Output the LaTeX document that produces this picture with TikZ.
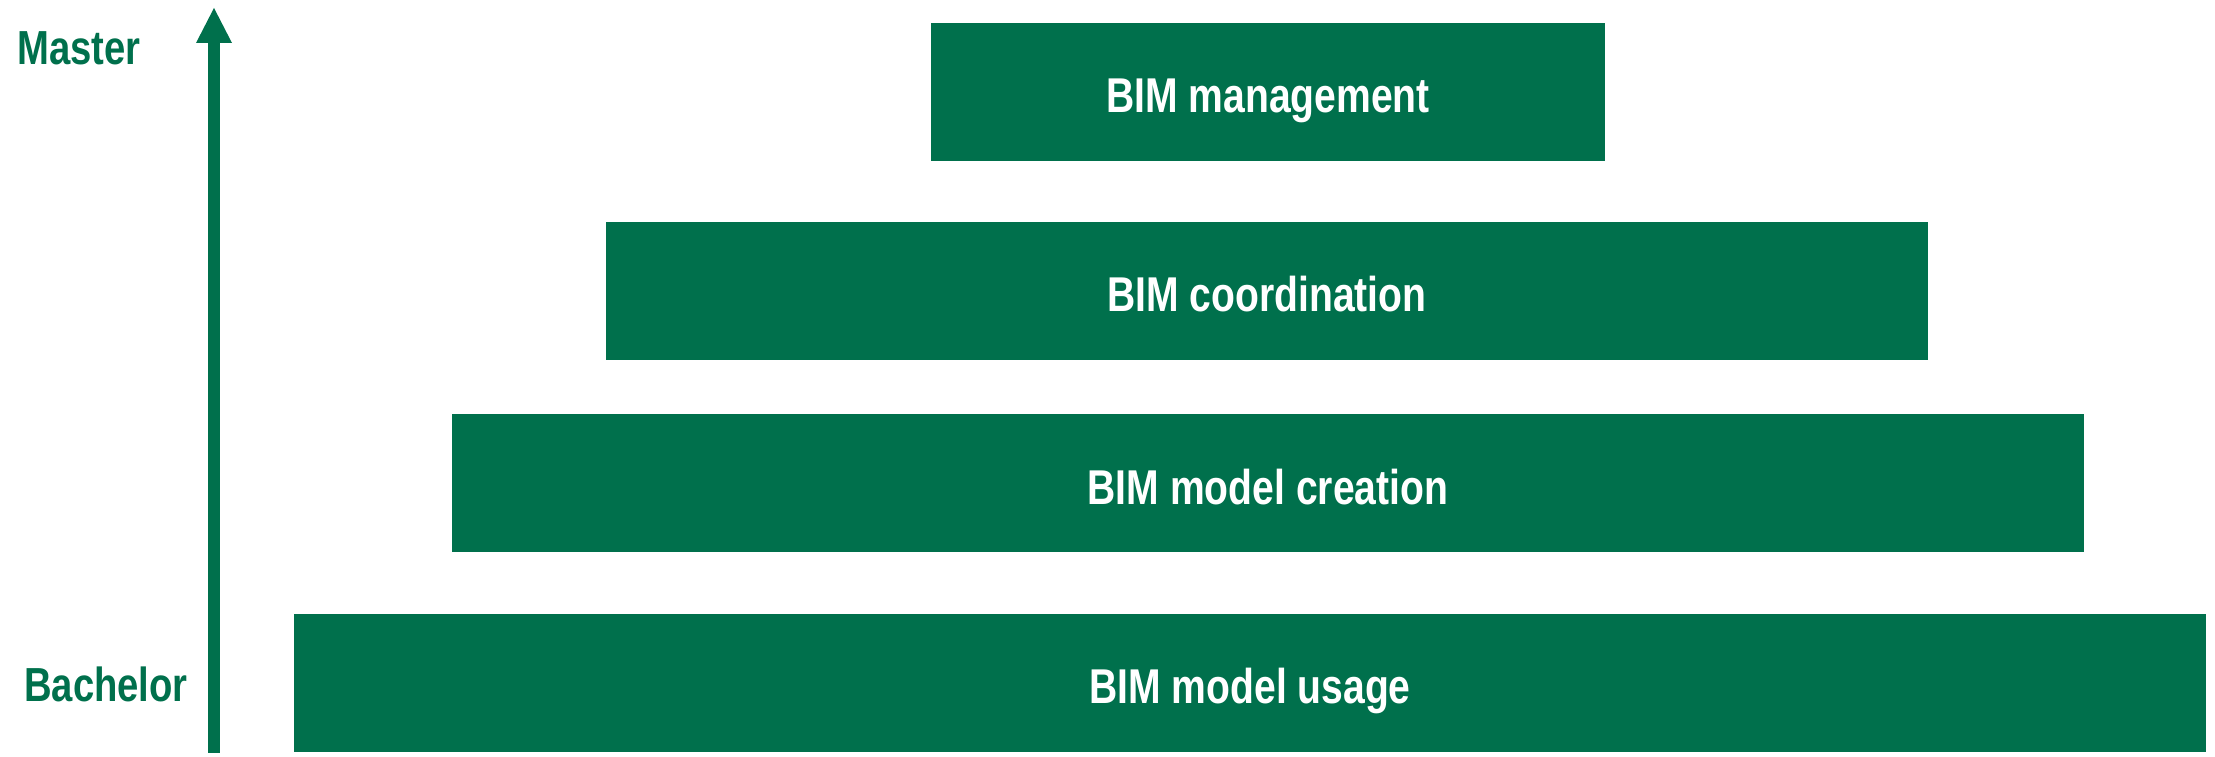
\documentclass[tikz,border=0pt]{standalone}
\usepackage{fontspec}
\setmainfont{Liberation Sans}[FakeStretch=0.8]
\usetikzlibrary{arrows.meta}
\definecolor{bimgreen}{RGB}{0,112,76}

\begin{document}
\begin{tikzpicture}

\tikzstyle{level}=[rectangle, fill=bimgreen, minimum height=13.8mm, inner sep=0pt, text=white, font=\bfseries\fontsize{13.9}{16}\selectfont, text height=11.7pt, text depth=0pt]
\tikzstyle{degree}=[text=bimgreen, font=\bfseries\fontsize{13.6}{16}\selectfont, anchor=base]

\tikzstyle{connect}=[-{Triangle[length=3.5mm,width=3.6mm,line width=0pt]}, line width=1.2mm, color=bimgreen]

\useasboundingbox (0,0) rectangle (22.15,7.57);

\node[level, minimum width=6.74cm] (mgmt) at (12.68,6.65) {BIM management};
\node[level, minimum width=13.22cm] (coord) at (12.67,4.66) {BIM coordination};
\node[level, minimum width=16.32cm] (creation) at (12.68,2.735) {BIM model creation};
\node[level, minimum width=19.12cm] (usage) at (12.50,0.74) {BIM model usage};

\node[degree] (master) at (0.79,6.92) {Master};
\node[degree] (bachelor) at (1.06,0.55) {Bachelor};

\coordinate (low) at (2.14,0.04);
\coordinate (high) at (2.14,7.49);
\path (low) [connect] edge (high);

\end{tikzpicture}
\end{document}
